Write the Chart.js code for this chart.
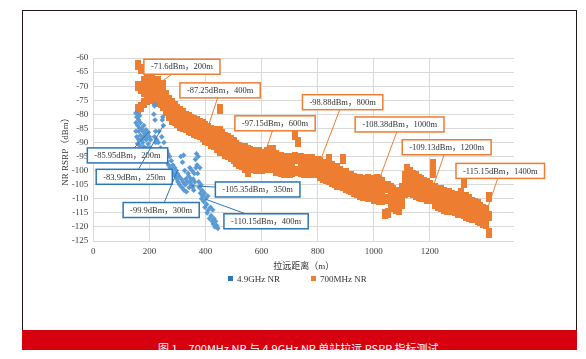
<!DOCTYPE html>
<html>
<head>
<meta charset="utf-8">
<script src="https://cdn.jsdelivr.net/npm/chart.js@4/dist/chart.umd.min.js"></script>
<style>
  html, body { margin: 0; padding: 0; background: #fff; }
  #wrap { position: relative; width: 586px; height: 359px; overflow: hidden; }
  #frame { position: absolute; left: 22px; top: 10px; width: 553px; height: 320px; border: 1px solid #231815; border-bottom: none; }
  #banner { position: absolute; left: 22px; top: 330px; width: 555px; height: 20px; background: #d7000f; overflow: hidden; }
  #banner span { position: absolute; left: 136px; top: 10px; color: #fff; font: 11px 'Noto Sans CJK SC', sans-serif; white-space: nowrap; }
  canvas { position: absolute; left: 0; top: 0; }
  .lg { position: absolute; top: 274px; font: 9px 'Liberation Serif', 'Noto Sans CJK SC', serif; color: #333; white-space: nowrap; }
  .lg i { display: inline-block; width: 5px; height: 5px; margin-right: 4px; vertical-align: 1px; }
</style>
</head>
<body>
<div id="wrap">
  <div id="frame"></div>
  <canvas id="c" width="586" height="359"></canvas>
  <div class="lg" style="left:228px"><i style="background:#2e75b6"></i>4.9GHz NR</div>
  <div class="lg" style="left:311px"><i style="background:#ed7d31"></i>700MHz NR</div>
  <div id="banner"><span>图 1　700MHz NR 与 4.9GHz NR 单站拉远 RSRP 指标测试</span></div>
</div>
<script>
// 700MHz NR: jarak (m) + sebaran atas / tengah / bawah (dBm)
const orangeDist = [
  160, 170, 180, 190, 200, 210, 220, 230, 240, 250,
  260, 270, 280, 290, 300, 310, 320, 330, 340, 350,
  360, 370, 380, 390, 400, 410, 420, 430, 440, 450,
  460, 470, 480, 490, 500, 510, 520, 530, 540, 550,
  560, 570, 580, 590, 600, 610, 620, 630, 640, 650,
  660, 670, 680, 690, 700, 710, 720, 730, 740, 750,
  760, 770, 780, 790, 800, 810, 820, 830, 840, 850,
  860, 870, 880, 890, 900, 910, 920, 930, 940, 950,
  960, 970, 980, 990, 1000, 1010, 1020, 1030, 1040, 1050,
  1060, 1070, 1080, 1090, 1100, 1110, 1120, 1130, 1140, 1150,
  1160, 1170, 1180, 1190, 1200, 1210, 1220, 1230, 1240, 1250,
  1260, 1270, 1280, 1290, 1300, 1310, 1320, 1330, 1340, 1350,
  1360, 1370, 1380, 1390, 1400, 1410
];
const orangeHigh = [
  -62.5, -64, -68, -67.5, -68, -67, -69, -68, -70, -69.5,
  -73, -75, -76, -77, -78, -79, -79.5, -80.5, -81, -81.5,
  -82, -82.5, -83, -83.5, -84, -85, -85.5, -86, -86, -78,
  -87, -88, -88.5, -89, -90, -91, -91.5, -92, -92, -92.5,
  -93, -93.5, -94, -93.5, -94, -94, -93.5, -92.5, -92.5, -94.5,
  -95, -95, -95.5, -96, -95.5, -96, -87.5, -90, -95.5, -96,
  -96, -96.5, -96, -96.5, -96.5, -97, -97.5, -98, -96, -98.5,
  -99, -99, -100, -96, -101, -102, -102, -102.5, -103, -103,
  -103.5, -104, -103, -103.5, -104, -103, -103.5, -104, -106, -105.5,
  -106, -107, -107.5, -108, -106, -102, -99.5, -100.5, -101.5, -102,
  -103, -103.5, -104, -104.5, -105, -97.5, -106, -107, -107, -107.5,
  -108, -108, -108.5, -109, -109, -108, -104.5, -109.5, -110, -111,
  -111.5, -112, -113, -113.5, -114, -109.5
];
const orangeMid = [
  -70, -71, -72, -71.5, -71.5, -71, -72, -72.5, -73, -74,
  -76, -78, -79, -80, -81, -81.5, -82, -82.5, -83.5, -84,
  -84.5, -85, -85.5, -86, -87, -87.5, -88, -88.5, -89, -86,
  -90, -91, -91.5, -92, -93, -94, -94.5, -95, -95.5, -96,
  -96, -96.5, -97, -96.5, -97, -96.5, -96, -96, -96.5, -97,
  -97.5, -98, -98, -98.5, -98.5, -98.5, -95, -96, -98, -98.5,
  -98.5, -99, -98.5, -99, -99, -99.5, -100, -100.5, -100.5, -101,
  -101.5, -102, -102.5, -102, -103.5, -104, -104.5, -105, -105.5, -106,
  -106, -106.5, -106, -106.5, -107.5, -106.5, -107, -107.5, -110, -110,
  -109, -110, -110.5, -111, -109, -105, -103.5, -104, -105, -105.5,
  -106, -106.5, -107, -107, -108, -101, -109, -109.5, -110, -110.5,
  -111, -111, -111.5, -112, -112, -111.5, -110, -113, -113.5, -114,
  -114.5, -115, -115.5, -116, -116.5, -116
];
const orangeLow = [
  -78, -77.5, -76, -75, -74.5, -74, -75, -75.5, -76, -77,
  -79, -80.5, -82, -82.5, -83, -84, -84.5, -85, -85.5, -86,
  -86.5, -87, -87.5, -88, -89, -89.5, -90.5, -91, -92, -93,
  -93, -94, -94.5, -95, -96, -97, -97.5, -98, -99, -100.5,
  -99, -99, -99.5, -99, -99.5, -99, -98.5, -99, -99, -100,
  -100, -100.5, -101, -101, -101, -100.5, -100, -100, -100.5, -101,
  -100.5, -101, -100.5, -101, -101, -102, -102.5, -103, -103.5, -104,
  -104.5, -105, -105, -105.5, -106, -106.5, -107, -107.5, -108, -108.5,
  -109, -109, -109.5, -109.5, -110, -110, -110.5, -110.5, -115.5, -115,
  -112, -113, -113.5, -114, -112, -108, -107, -107.5, -108, -108.5,
  -109, -109.5, -109.5, -110, -110, -108, -112, -112.5, -113, -113.5,
  -114, -113.5, -114, -114.5, -115, -115, -115.5, -116, -116.5, -117,
  -117, -117.5, -118, -118.5, -119, -122
];

// 4.9GHz NR: titik sampel (m, dBm)
const blueDist = [
  152, 152, 152, 155, 155, 158, 158, 158, 162, 162, 162, 165, 165, 165, 168, 168,
  172, 172, 172, 176, 176, 180, 180, 180, 184, 184, 188, 188, 192, 192, 196, 196,
  200, 200, 204, 204, 216, 218, 220, 220, 222, 222, 218, 226, 228, 232, 234, 236,
  240, 244, 246, 248, 250, 252, 254, 256, 258, 262, 262, 266, 268, 272, 274, 278,
  280, 284, 286, 290, 292, 296, 298, 300, 302, 306, 308, 312, 314, 316, 318, 320,
  322, 324, 326, 328, 330, 332, 336, 338, 340, 342, 344, 346, 348, 350, 352, 354,
  356, 358, 360, 362, 364, 366, 368, 370, 372, 374, 376, 378, 380, 382, 384, 386,
  388, 390, 394, 396, 398, 400, 404, 406, 408, 410, 414, 418, 420, 424, 426, 428,
  430, 434, 436, 440, 444
];
const blueRsrp = [
  -79.5, -83, -86, -81, -88, -80, -84, -90.5, -82, -86, -89, -80.5, -85, -91, -83, -87.5,
  -85, -89, -92.5, -86, -90, -84, -88, -91.5, -87, -92, -85.5, -89, -88, -92, -86.5, -90.5,
  -88, -93, -89, -92, -80, -77, -76.5, -82, -86, -90, -88, -89, -93, -90, -86, -95,
  -92, -88, -82, -81, -84, -90, -94, -96, -92.5, -93, -97, -94, -98, -95, -99, -96.5,
  -100, -98, -101, -99, -102, -100, -103, -101, -104, -102, -105, -95, -103, -106, -97, -104,
  -94.5, -107, -100, -105, -103, -107.5, -104, -101, -102, -106, -99, -104, -103, -105, -100, -106,
  -103, -107, -101, -104, -96, -99, -94, -98, -101, -95, -104, -106, -99, -108, -105, -110,
  -107, -109, -111, -108, -113, -110, -112, -115, -109, -114, -117, -113, -116, -118, -114, -119,
  -117, -120, -118, -119.5, -120.5
];

// label anotasi
const orangeNoteDist = [200, 400, 600, 800, 1000, 1200, 1400];
const orangeNoteVal = [-71.6, -87.25, -97.15, -98.88, -108.38, -109.13, -115.15];
const blueNoteDist = [200, 250, 300, 350, 400];
const blueNoteVal = [-85.95, -83.9, -99.9, -105.35, -110.15];

// posisi kotak label (tengah kotak, koordinat data)
const orangeBoxAt = [[316, -63.1], [452, -71.5], [648, -83.2], [889, -75.7], [1092, -83.6], [1260, -91.7], [1451, -100.1]];
const blueBoxAt = [[122, -94.6], [146, -102.2], [242, -114], [586, -106.7], [616, -118]];

const ORANGE = '#ed7d31';
const BLUE = '#5b9bd5';
const BLUE_DARK = '#2e75b6';
const serif = "'Liberation Serif', 'Noto Sans CJK SC', serif";

// marker persegi panjang tegak (kayak di gambar asli)
function barMark(color, w, h) {
  const c = document.createElement('canvas');
  c.width = w; c.height = h;
  const g = c.getContext('2d');
  g.fillStyle = color;
  g.fillRect(0, 0, w, h);
  return c;
}

const orangePts = [];
orangeDist.forEach((d, i) => {
  orangePts.push({ x: d, y: orangeHigh[i] }, { x: d, y: orangeMid[i] }, { x: d, y: orangeLow[i] });
});
const bluePts = blueDist.map((d, i) => ({ x: d, y: blueRsrp[i] }));

const notes = [
  ...orangeNoteDist.map((d, i) => ({ d, v: orangeNoteVal[i], box: orangeBoxAt[i], color: ORANGE })),
  ...blueNoteDist.map((d, i) => ({ d, v: blueNoteVal[i], box: blueBoxAt[i], color: BLUE_DARK }))
];

// gambar callout (garis + kotak teks)
const calloutPlugin = {
  id: 'callouts',
  afterDatasetsDraw(chart) {
    const { ctx, scales: { x, y } } = chart;
    ctx.save();
    ctx.font = '8.5px ' + serif;
    ctx.textAlign = 'center';
    ctx.textBaseline = 'middle';
    notes.forEach(n => {
      const px = x.getPixelForValue(n.d), py = y.getPixelForValue(n.v);
      const bx = x.getPixelForValue(n.box[0]), by = y.getPixelForValue(n.box[1]);
      const label = n.v + 'dBm，' + n.d + 'm';
      const w = ctx.measureText(label).width + 14, h = 15;
      ctx.strokeStyle = n.color;
      ctx.lineWidth = 1;
      ctx.beginPath(); ctx.moveTo(px, py); ctx.lineTo(bx, by); ctx.stroke();
      ctx.fillStyle = '#fff';
      ctx.fillRect(bx - w / 2, by - h / 2, w, h);
      ctx.lineWidth = 1.5;
      ctx.strokeRect(bx - w / 2, by - h / 2, w, h);
      ctx.fillStyle = '#333';
      ctx.fillText(label, bx, by + 0.5);
    });
    ctx.restore();
  }
};

new Chart(document.getElementById('c'), {
  type: 'scatter',
  data: {
    datasets: [
      { label: '4.9GHz NR', data: bluePts, backgroundColor: BLUE, pointStyle: 'rectRot', pointRadius: 2.8, borderWidth: 0 },
      { label: '700MHz NR', data: orangePts, backgroundColor: ORANGE, pointStyle: barMark(ORANGE, 6, 10), pointRadius: 4, borderWidth: 0 }
    ]
  },
  options: {
    responsive: false, animation: false,
    layout: { padding: { left: 58, top: 58, right: 72, bottom: 86 } },
    plugins: { legend: { display: false }, tooltip: { enabled: false } },
    scales: {
      x: {
        type: 'linear', min: 0, max: 1500,
        ticks: { stepSize: 200, padding: 5, color: '#404040', font: { family: serif, size: 9 }, callback: v => String(v) },
        afterBuildTicks: s => { s.ticks = s.ticks.filter(t => t.value <= 1400); },
        afterFit: s => { s.height = 32; },
        grid: { color: '#d9d9d9', drawTicks: false },
        border: { display: false },
        title: { display: true, text: '拉远距离（m）', color: '#333', padding: 1, font: { family: serif, size: 9 } }
      },
      y: {
        min: -125, max: -60,
        ticks: { stepSize: 5, padding: 5, color: '#404040', font: { family: serif, size: 9 } },
        afterFit: s => { s.width = 35.3; },
        grid: { color: '#d9d9d9', drawTicks: false },
        border: { color: '#d9d9d9' },
        title: { display: true, text: 'NR RSRP（dBm）', color: '#333', padding: 2, font: { family: serif, size: 9 } }
      }
    }
  },
  plugins: [calloutPlugin]
});
</script>
</body>
</html>
